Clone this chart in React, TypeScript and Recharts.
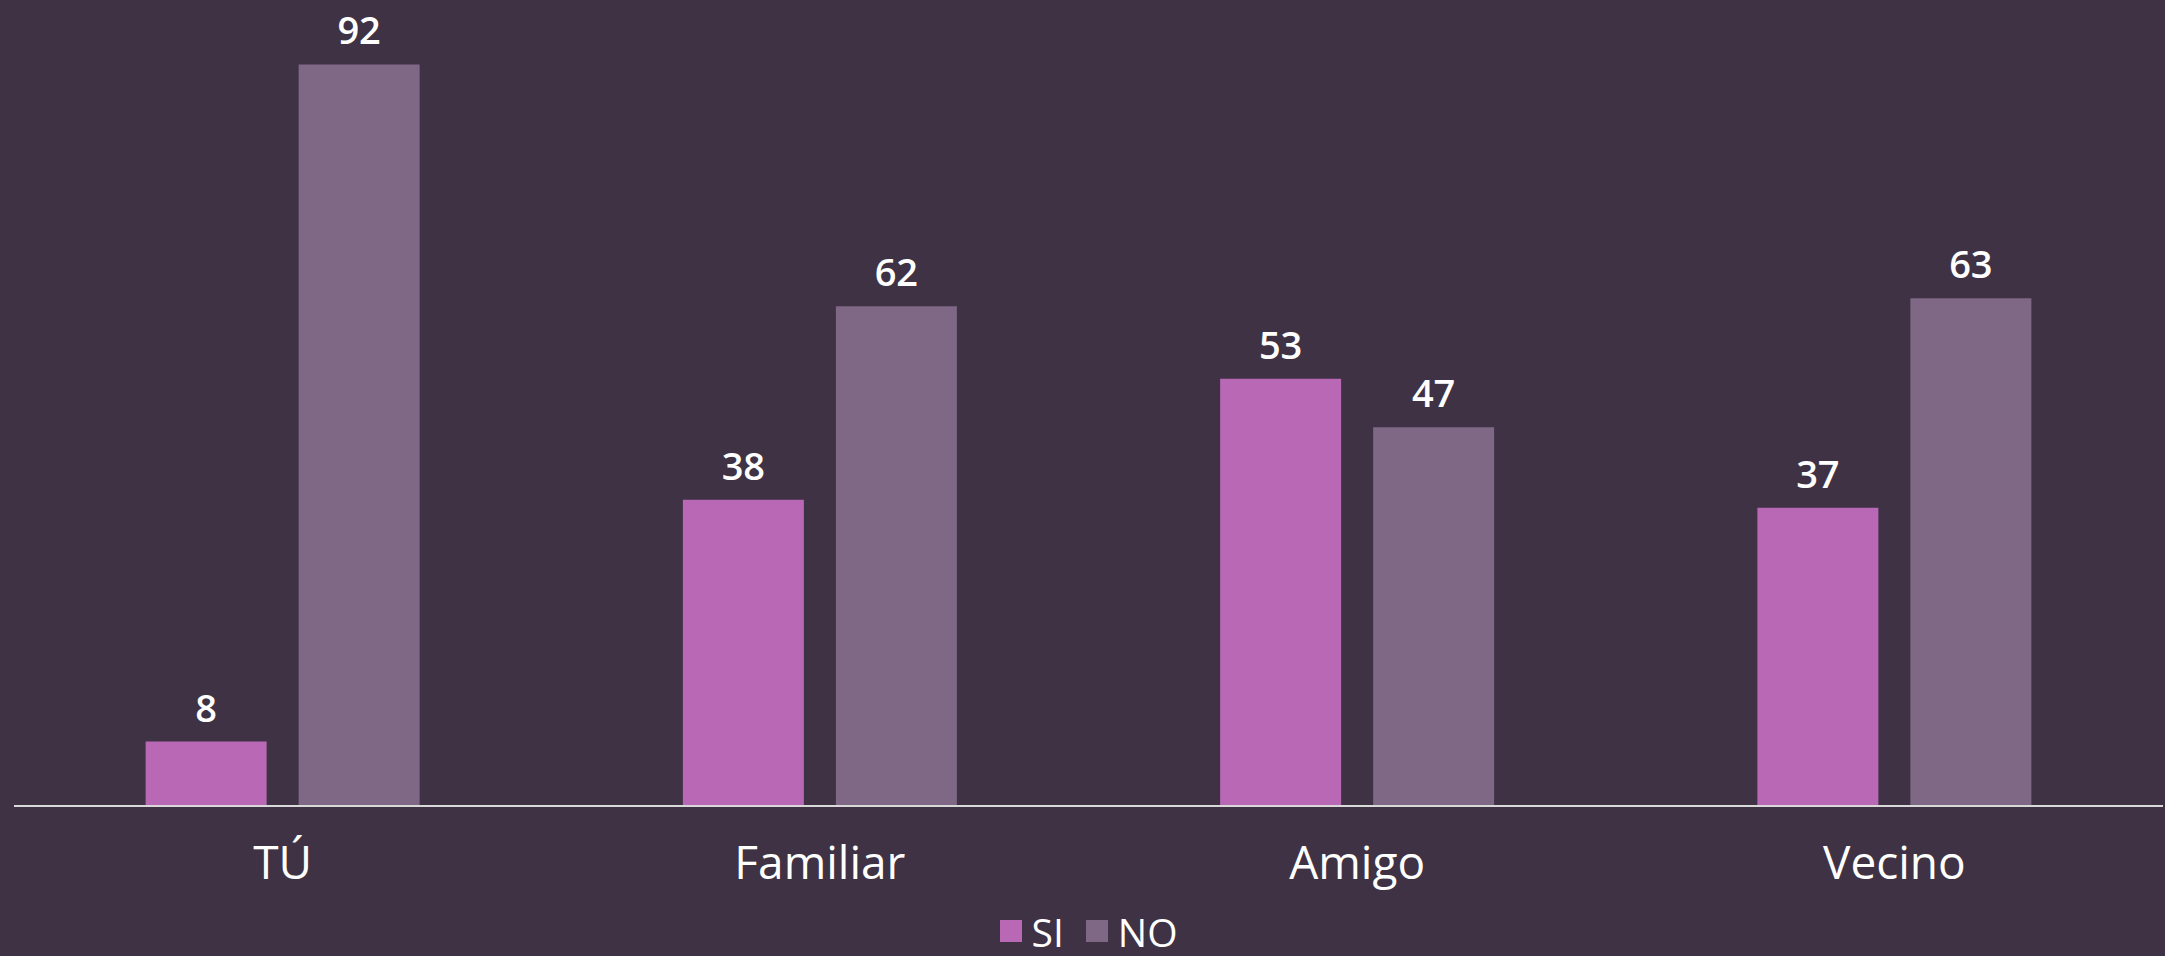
import { BarChart, Bar, XAxis, YAxis, Legend, LabelList } from 'recharts'

// Encuesta: SI / NO por grupo
const categories = ['TÚ', 'Familiar', 'Amigo', 'Vecino']
const seriesNames = ['SI', 'NO']
const siValues = [8, 38, 53, 37]
const noValues = [92, 62, 47, 63]

const data = categories.map((name, i) => ({
  name,
  SI: siValues[i],
  NO: noValues[i],
}))

const BG = '#3e3244'
const FONT = '"Open Sans", sans-serif'

const renderLegend = (props: any) => {
  const payload = [...props.payload].sort(
    (a: any, b: any) => seriesNames.indexOf(a.value) - seriesNames.indexOf(b.value)
  )
  return (
    <div
      style={{
        display: 'flex',
        justifyContent: 'center',
        alignItems: 'center',
        height: 50,
        paddingTop: 8,
        fontFamily: FONT,
        color: '#ffffff',
        fontSize: 39,
      }}
    >
      {payload.map((entry: any) => (
        <div
          key={entry.value}
          style={{ display: 'flex', alignItems: 'center', margin: '0 11px' }}
        >
          <span
            style={{
              width: 22,
              height: 22,
              background: entry.color,
              display: 'inline-block',
              marginRight: 10,
            }}
          />
          <span>{entry.value}</span>
        </div>
      ))}
    </div>
  )
}

export default function App() {
  return (
    <div style={{ background: BG, width: 2165, height: 956, position: 'absolute', top: 0, left: 0 }}>
      <style>{`body{margin:0;background:${BG}}`}</style>
      <BarChart
        width={2165}
        height={956}
        data={data}
        margin={{ top: 0, right: 2, bottom: 0, left: 14 }}
        barCategoryGap="24.5%"
        barGap={32}
      >
        <XAxis
          dataKey="name"
          tickLine={false}
          tickSize={0}
          tickMargin={40}
          height={92}
          axisLine={{ stroke: '#d9d9d9', strokeWidth: 2 }}
          tick={{ fill: '#ffffff', fontSize: 46, fontFamily: FONT, fontWeight: 500 }}
        />
        <YAxis hide domain={[0, 100]} />
        <Legend verticalAlign="bottom" content={renderLegend} />
        <Bar dataKey="SI" fill="#b968b5" isAnimationActive={false}>
          <LabelList
            dataKey="SI"
            position="top"
            offset={20}
            fill="#ffffff"
            style={{ fontSize: 38, fontFamily: FONT, fontWeight: 600 }}
          />
        </Bar>
        <Bar dataKey="NO" fill="#7f6885" isAnimationActive={false}>
          <LabelList
            dataKey="NO"
            position="top"
            offset={20}
            fill="#ffffff"
            style={{ fontSize: 38, fontFamily: FONT, fontWeight: 600 }}
          />
        </Bar>
      </BarChart>
    </div>
  )
}
